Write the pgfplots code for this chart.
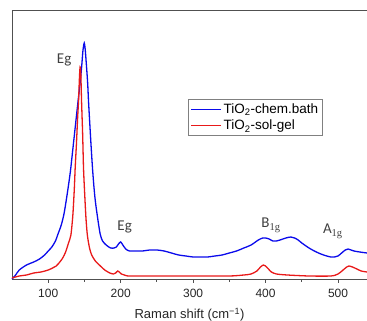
\documentclass[border=0pt]{standalone}
\usepackage{fontspec}
\setmainfont{Liberation Sans}
\newfontfamily\calib{Carlito}
\newfontfamily\serifsub{Liberation Serif}
\usepackage{pgfplots}
\pgfplotsset{compat=1.18}
\definecolor{bl}{RGB}{10,10,235}
\definecolor{rd}{RGB}{232,25,25}
\definecolor{axc}{RGB}{80,80,80}
\begin{document}
\begin{tikzpicture}
\begin{axis}[
  scale only axis,
  width=355pt, height=269pt,
  xmin=50, xmax=540, ymin=0, ymax=269,
  axis x line*=bottom, axis y line*=left,
  axis line style={axc, line width=0.9pt},
  xtick={100,200,300,400,500},
  minor x tick num=1,
  ytick=\empty,
  tick align=outside,
  major tick length=4pt, minor tick length=3pt,
  tick style={axc, line width=0.8pt},
  /pgf/number format/assume math mode=true,
  ticklabel style={font=\fontsize{12}{14}\selectfont, text=black!85},
  xticklabel style={yshift=-3pt},
  xlabel={Raman shift (cm\textsuperscript{−1})},
  xlabel style={font=\fontsize{13}{15}\selectfont, text=black!85, yshift=-3pt},
  legend style={at={(rel axis cs:0.496,0.669)}, anchor=north west, draw=gray, line width=0.8pt,
    font=\fontsize{13.5}{15}\selectfont, inner xsep=2pt, inner ysep=2pt, row sep=1.5pt},
  legend cell align=left,
  legend image code/.code={\draw[#1, line width=1.1pt] (0pt,0pt) -- (30pt,0pt);},
  clip=false,
]
\addplot[bl, line width=1.3pt, smooth, tension=0.45] coordinates {
(50,0) (55,4) (60,9) (70,14) (80,17) (88,20) (95,24) (100,28) (105,32) (110,38)
(113,44) (118,54) (122,66) (126,84) (129,99) (131,110) (134,130) (137,150) (140,170)
(142,183) (144,196) (146,211) (148,229) (149.7,236) (151,230) (153,211) (154.5,195)
(155.6,178) (157,160) (159,135) (161,112) (163,93) (165,78) (168,62) (171.7,45)
(175,38) (180,34) (186,31) (191,31) (194,32) (197,35) (200,37) (203,34) (207,30)
(212,28) (220,28) (230,28) (240,29) (250,29) (260,28) (270,26) (280,24) (290,23)
(300,22) (310,22) (320,22) (330,23) (340,24) (350,26) (360,28) (370,31) (380,34)
(390,39) (396,41) (400,41) (405,40) (410,38) (415,38) (420,39) (428,41) (435,42)
(440,41) (445,39) (450,36) (460,31) (470,27) (480,24) (490,22) (495,22) (500,23)
(505,26) (510,29) (514,30) (518,29) (522,28) (530,27) (540,26)
};
\addlegendentry{TiO\textsubscript{2}-chem.bath}
\addplot[rd, line width=1.3pt, smooth, tension=0.45] coordinates {
(50,1) (60,3) (70,4) (80,6) (90,7) (100,9) (106,11) (111,13) (116,17) (120,21)
(124,27) (128,36) (131.3,44) (134,64) (136,90) (137.2,111) (139,136) (140.5,160)
(142,180) (143,200) (144,212) (145,205) (146,178) (147.5,145) (148.7,111) (150,90)
(152,62) (154,44) (157,31) (160,24) (165,18) (172,13) (178,9) (185,6) (190,5)
(193,6) (196,8) (198,7) (201,5) (205,4) (210,3) (220,3) (250,3) (300,3) (350,3)
(370,4) (380,5) (388,8) (393,12) (397,14) (400,13) (404,10) (408,7) (415,5)
(430,4) (460,3) (490,3) (500,5) (507,9) (512,12) (515,13) (520,12) (526,10)
(532,8) (540,7)
};
\addlegendentry{TiO\textsubscript{2}-sol-gel}
\draw[axc, line width=0.9pt] (rel axis cs:0,1) -- (rel axis cs:1,1);
\node[anchor=base, font=\calib\fontsize{15}{17}\selectfont, text=black!75] at (axis cs:122,215) {Eg};
\node[anchor=base, font=\calib\fontsize{15}{17}\selectfont, text=black!75] at (axis cs:205.5,48) {Eg};
\node[anchor=base west, inner sep=0pt, font=\calib\fontsize{15}{17}\selectfont, text=black!75] at (axis cs:394,51) {B\textsubscript{\serifsub 1g}};
\node[anchor=base west, inner sep=0pt, font=\calib\fontsize{15}{17}\selectfont, text=black!75] at (axis cs:479,45) {A\textsubscript{\serifsub 1g}};
\coordinate (bl0) at (rel axis cs:0,0);
\coordinate (tr0) at (rel axis cs:1,1);
\end{axis}
\pgfresetboundingbox
\path[use as bounding box] ([xshift=-12pt,yshift=-42pt]bl0) rectangle ([yshift=10pt]tr0);
\end{tikzpicture}
\end{document}
